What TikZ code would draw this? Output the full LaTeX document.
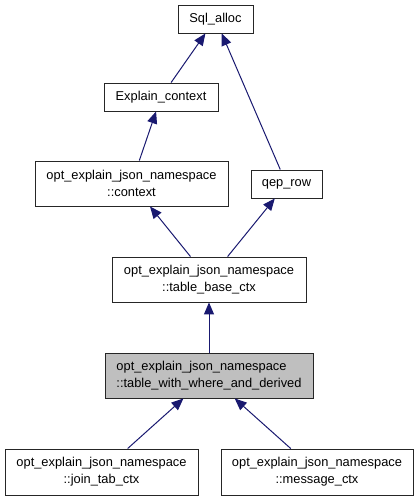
\documentclass[tikz,border=0pt]{standalone}
\usepackage{fontspec}
\setmainfont{Liberation Sans}
\usetikzlibrary{arrows.meta}
\definecolor{edgeblue}{HTML}{191970}
\definecolor{focusgray}{HTML}{BFBFBF}
\tikzset{
  cls/.style={draw=black!85, line width=0.9pt, fill=white, inner sep=0pt, minimum height=28pt,
    font=\fontsize{12.85}{17}\selectfont, align=center},
  inh/.style={draw=edgeblue, line width=1pt, -{Triangle[length=12pt,width=10pt,fill=edgeblue]}},
}

\begin{document}
\begin{tikzpicture}[x=1pt,y=-1pt]
		\useasboundingbox (0,0) rectangle (419,501);
		\node [cls, minimum width=75pt](Sql_alloc) at (215.5,19) {Sql\_alloc};
		\node [cls, minimum width=114pt](Explain_context) at (161,97) {Explain\_context};
		\node [cls, minimum width=193pt, minimum height=45pt](context) at (131.5,183.5) {opt\_explain\_json\_namespace\\::context};
		\node [cls, minimum width=71pt](qep_row) at (286.5,184) {qep\_row};
		\node [cls, minimum width=194pt, minimum height=45pt](table_base_ctx) at (209,279.5) {opt\_explain\_json\_namespace\\::table\_base\_ctx};
		\node [cls, fill=focusgray, align=left, minimum width=208pt, minimum height=45pt](table_with_where) at (209,375.5) {opt\_explain\_json\_namespace\\::table\_with\_where\_and\_derived};
		\node [cls, minimum width=193pt, minimum height=46pt](join_tab_ctx) at (101.5,472) {opt\_explain\_json\_namespace\\::join\_tab\_ctx};
		\node [cls, minimum width=192pt, minimum height=46pt](message_ctx) at (317,472) {opt\_explain\_json\_namespace\\::message\_ctx};

		\draw [inh](Explain_context)--(Sql_alloc);
		\draw [inh](qep_row)--(Sql_alloc);
		\draw [inh](context)--(Explain_context);

		\draw [inh](table_base_ctx)--(context);
		\draw [inh](table_base_ctx)--(qep_row);
		\draw [inh](table_with_where)--(table_base_ctx);

		\draw [inh](join_tab_ctx)--(table_with_where);
		\draw [inh](message_ctx)--(table_with_where);
	\end{tikzpicture}
\end{document}
